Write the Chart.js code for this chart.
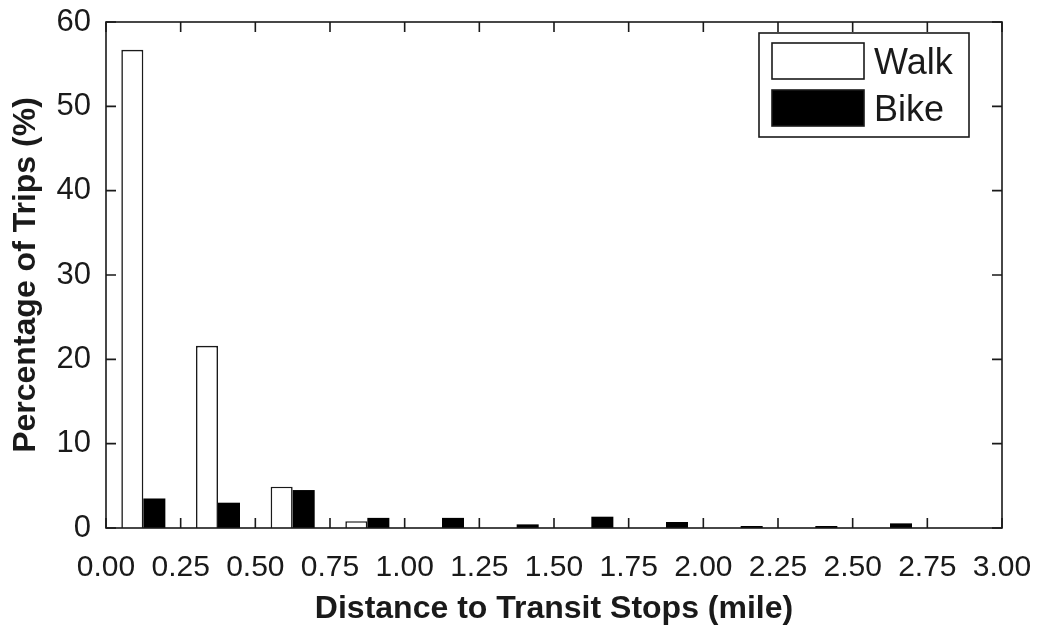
<!DOCTYPE html>
<html>
<head>
<meta charset="utf-8">
<script src="https://cdn.jsdelivr.net/npm/chart.js@4.4.1/dist/chart.umd.min.js"></script>
<style>
  html, body { margin: 0; padding: 0; background: #ffffff; }
  #wrap { width: 1056px; height: 630px; position: relative; }
</style>
</head>
<body>
<div id="wrap"><canvas id="c" width="1056" height="630"></canvas></div>
<script>
// ---- Data ----
const binCenters = [0.125, 0.375, 0.625, 0.875, 1.125, 1.375, 1.625, 1.875, 2.125, 2.375, 2.625, 2.875];
const walkPct = [56.7, 21.6, 4.9, 0.8, 0, 0, 0, 0, 0, 0, 0, 0];
const bikePct = [3.5, 3.0, 4.5, 1.2, 1.2, 0.43, 1.34, 0.71, 0.24, 0.24, 0.55, 0];
const xTickValues = [0, 0.25, 0.5, 0.75, 1, 1.25, 1.5, 1.75, 2, 2.25, 2.5, 2.75, 3];
const yTickValues = [0, 10, 20, 30, 40, 50, 60];
const seriesNames = ['Walk', 'Bike'];
const xTitle = 'Distance to Transit Stops (mile)';
const yTitle = 'Percentage of Trips (%)';

const INK = '#1a1a1a';
const FONT = 'Arial, "Liberation Sans", sans-serif';

const toPoints = (vals) => vals.map((v, i) => ({ x: binCenters[i], y: v }));

// Frame, inward ticks on all four sides, and the legend box
const framePlugin = {
  id: 'frame',
  afterDatasetsDraw(chart) {
    const { ctx, chartArea: a, scales } = chart;
    const t = 10;
    ctx.save();
    ctx.strokeStyle = INK;
    ctx.lineWidth = 1.6;
    ctx.beginPath();
    xTickValues.forEach(v => {
      const px = scales.x.getPixelForValue(v);
      ctx.moveTo(px, a.bottom); ctx.lineTo(px, a.bottom - t);
      ctx.moveTo(px, a.top); ctx.lineTo(px, a.top + t);
    });
    yTickValues.forEach(v => {
      const py = scales.y.getPixelForValue(v);
      ctx.moveTo(a.left, py); ctx.lineTo(a.left + t, py);
      ctx.moveTo(a.right, py); ctx.lineTo(a.right - t, py);
    });
    ctx.stroke();
    ctx.strokeRect(a.left, a.top, a.right - a.left, a.bottom - a.top);

    // legend
    const lx = a.right - 243, ly = a.top + 11, lw = 210, lh = 104;
    ctx.fillStyle = '#ffffff';
    ctx.fillRect(lx, ly, lw, lh);
    ctx.lineWidth = 1.6;
    ctx.strokeRect(lx, ly, lw, lh);
    chart.data.datasets.forEach((ds, i) => {
      const sy = ly + 10 + i * 47;
      ctx.fillStyle = ds.backgroundColor;
      ctx.fillRect(lx + 13, sy, 92, 36);
      ctx.strokeStyle = INK;
      ctx.lineWidth = 1.6;
      ctx.strokeRect(lx + 13, sy, 92, 36);
      ctx.fillStyle = INK;
      ctx.font = '36px ' + FONT;
      ctx.textAlign = 'left';
      ctx.textBaseline = 'alphabetic';
      ctx.fillText(ds.label, lx + 115, sy + 31);
    });
    ctx.restore();
  }
};

new Chart(document.getElementById('c'), {
  type: 'bar',
  data: {
    datasets: [
      { label: seriesNames[0], data: toPoints(walkPct), backgroundColor: '#ffffff', borderColor: INK, borderWidth: 1.6, borderSkipped: 'bottom' },
      { label: seriesNames[1], data: toPoints(bikePct), backgroundColor: '#000000', borderColor: INK, borderWidth: 0 }
    ]
  },
  options: {
    responsive: false,
    animation: false,
    devicePixelRatio: 1,
    categoryPercentage: 0.59,
    barPercentage: 1.0,
    layout: { padding: { left: 4, right: 54, top: 22, bottom: 2 } },
    plugins: { legend: { display: false }, tooltip: { enabled: false } },
    scales: {
      x: {
        type: 'linear',
        min: 0, max: 3,
        offset: false,
        afterBuildTicks(s) { s.ticks = xTickValues.map(v => ({ value: v })); },
        afterFit(s) { s.height = 100; s.paddingLeft = 0; s.paddingRight = 0; },
        grid: { display: false, drawTicks: false },
        border: { display: false },
        ticks: {
          color: INK, padding: 22, maxRotation: 0, autoSkip: false,
          font: { family: FONT, size: 30 },
          callback: v => Number(v).toFixed(2)
        },
        title: { display: true, text: xTitle, color: INK, padding: { top: 0, bottom: 0 },
                 font: { family: FONT, size: 32, weight: 'bold' } }
      },
      y: {
        min: 0, max: 60,
        afterBuildTicks(s) { s.ticks = yTickValues.map(v => ({ value: v })); },
        afterFit(s) { s.width = 102; s.paddingTop = 0; s.paddingBottom = 0; },
        grid: { display: false, drawTicks: false },
        border: { display: false },
        ticks: { color: INK, padding: 15, font: { family: FONT, size: 31 } },
        title: { display: true, text: yTitle, color: INK, padding: { top: 3, bottom: 0 },
                 font: { family: FONT, size: 32, weight: 'bold' } }
      }
    }
  },
  plugins: [framePlugin]
});
</script>
</body>
</html>
